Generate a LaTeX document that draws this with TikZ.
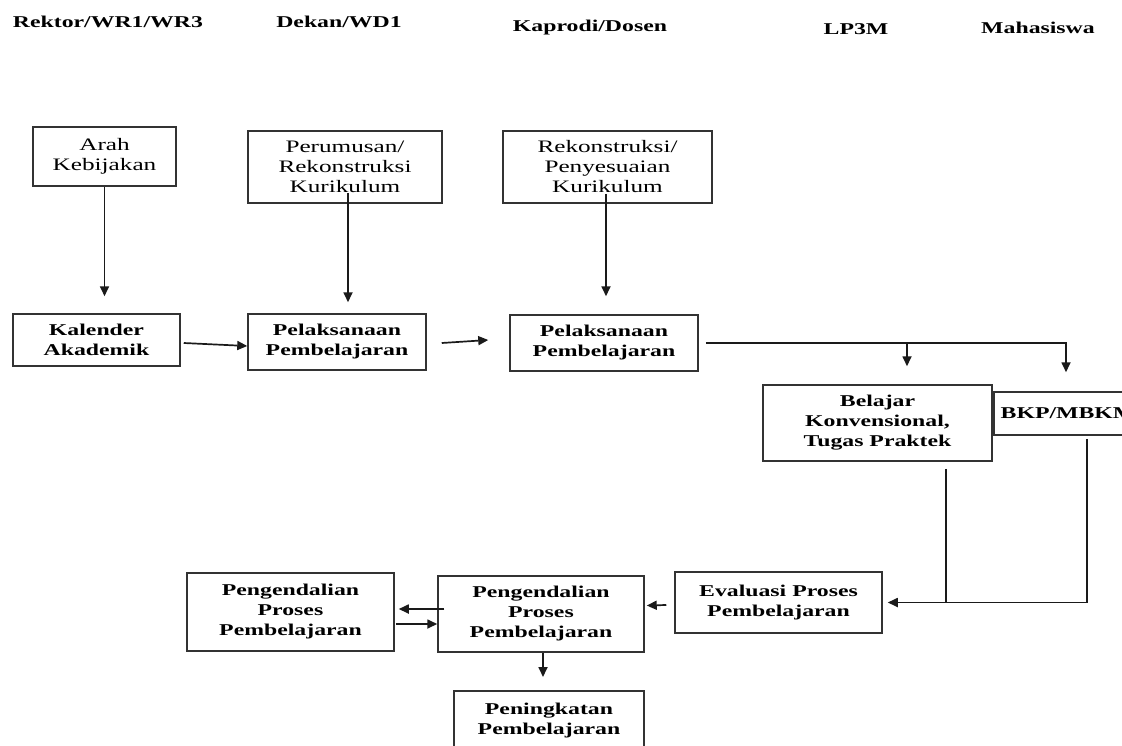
\documentclass[tikz,border=0pt]{standalone}
\usepackage{fontspec}
\setmainfont{Liberation Serif}[FakeStretch=1.44]
\usetikzlibrary{arrows.meta,calc}
\definecolor{boxc}{HTML}{333333}
\definecolor{linec}{HTML}{1A1A1A}
\begin{document}
\begin{tikzpicture}[x=1pt,y=-1pt,
  box/.style={draw=boxc, line width=1.5pt, inner sep=2pt, align=center, text=black},
  reg/.style={box, font=\fontsize{17.5}{20}\selectfont},
  bld/.style={box, font=\fontsize{16.5}{20}\selectfont\bfseries},
  head/.style={font=\fontsize{16.5}{20}\selectfont\bfseries, inner sep=0pt},
  conn/.style={draw=linec, line width=1.7pt},
  arr/.style={conn, -{Triangle[length=10pt,width=9pt]}},
]
\useasboundingbox (0,0) rectangle (1122,745);
\fill[white] (0,0) rectangle (1122,745);
\clip (0,0) rectangle (1122,745);

% headers
\node[head] (h1) at (108,22) {Rektor/WR1/WR3};
\node[head] (h2) at (339,22) {Dekan/WD1};
\node[head] (h3) at (590,28) {Kaprodi/Dosen};
\node[head] (h4) at (856,29) {LP3M};
\node[head] (h5) at (1038,28) {Mahasiswa};

% top row
\node[reg, minimum width=143pt, minimum height=59pt] (arah) at (104.5,156.5) {Arah\\Kebijakan};
\node[reg, minimum width=194pt, minimum height=72pt] (perum) at (345,167) {Perumusan/\\Rekonstruksi\\Kurikulum};
\node[reg, minimum width=209pt, minimum height=72pt] (rekon) at (607.5,167) {Rekonstruksi/\\Penyesuaian\\Kurikulum};

% second row
\node[bld, minimum width=167pt, minimum height=52pt] (kal) at (96.5,340) {Kalender\\Akademik};
\node[bld, minimum width=178pt, minimum height=56pt] (pel1) at (337,342) {Pelaksanaan\\Pembelajaran};
\node[bld, minimum width=188pt, minimum height=56pt] (pel2) at (604,343) {Pelaksanaan\\Pembelajaran};

% third row
\node[bld, minimum width=229pt, minimum height=76pt] (bel) at (877.5,423) {Belajar\\Konvensional,\\Tugas Praktek};
\node[bld, minimum width=148pt, minimum height=43pt] (bkp) at (1068,413.5) {BKP/MBKM};

% bottom rows
\node[bld, minimum width=207pt, minimum height=61pt] (eval) at (778.5,602.5) {Evaluasi Proses\\Pembelajaran};
\node[bld, minimum width=206pt, minimum height=76pt] (peng2) at (541,614) {Pengendalian\\Proses\\Pembelajaran};
\node[bld, minimum width=207pt, minimum height=78pt] (peng1) at (290.5,612) {Pengendalian\\Proses\\Pembelajaran};
\node[bld, minimum width=190pt, minimum height=60pt, anchor=north] (ping) at (549,690) {Peningkatan\\Pembelajaran};

% vertical arrows from top row
\draw[arr, shorten >=17pt] (arah.south) -- (arah.south |- kal.north);
\draw[arr] ([xshift=3pt,yshift=11pt]perum.south) -- ($(perum.south |- pel1.north)+(3,-11)$);
\draw[arr] ([xshift=-1.5pt,yshift=10pt]rekon.south) -- ($(rekon.south |- pel2.north)+(-1.5,-18)$);

% horizontal arrows second row
\draw[arr] ([xshift=3pt,yshift=-3pt]kal.east) -- ([yshift=-4pt]pel1.west);
\draw[arr] ([xshift=15pt,yshift=-1pt]pel1.east) -- ([xshift=-21pt,yshift=3pt]pel2.west);

% branch to third row
\coordinate (j1) at (907,343);
\draw[arr] ([xshift=7pt]pel2.east) -| ($(bkp.north)+(-2,-19)$);
\draw[arr] (j1) -- ($(j1 |- bel.north)+(0,-18)$);

% merge into evaluasi
\draw[conn] ([xshift=68.5pt,yshift=-7pt]bel.south) -- ($([xshift=68.5pt]bel.south |- eval.east)$);
\draw[arr] ([xshift=19pt,yshift=-3pt]bkp.south) |- ([xshift=5pt]eval.east);

% bottom arrows
\draw[arr] ([xshift=-8pt,yshift=-2.5pt]eval.west) -- ([xshift=2pt,yshift=8.5pt]peng2.east);
\draw[arr] ([xshift=7pt,yshift=5pt]peng2.west) -- ([xshift=4pt,yshift=3pt]peng1.east);
\draw[arr] ([xshift=1pt,yshift=-12pt]peng1.east) -- ([yshift=-10pt]peng2.west);
\draw[arr] ([xshift=2pt]peng2.south) -- ($(peng2.south |- ping.north)+(2,-13)$);
\end{tikzpicture}
\end{document}
